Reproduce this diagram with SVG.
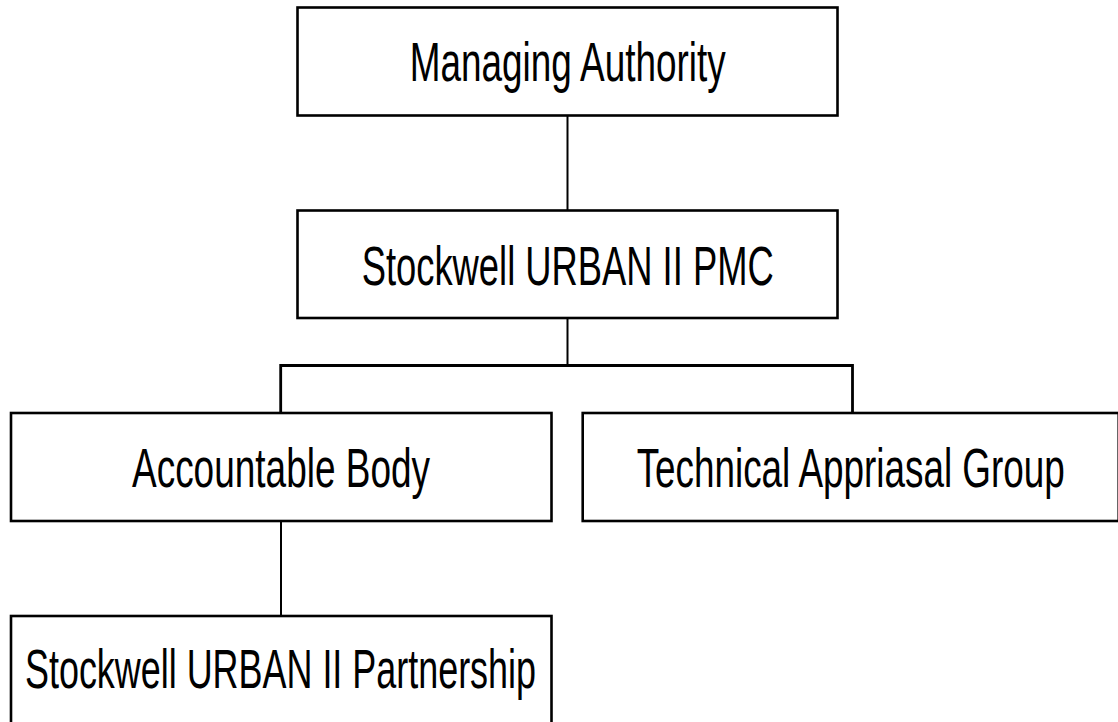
<svg xmlns="http://www.w3.org/2000/svg" width="1118" height="722" viewBox="0 0 1118 722">
<style>
.box{fill:#fff;stroke:#000;stroke-width:2.6}
.lbl{font-family:"Liberation Sans",Arial,sans-serif;font-size:56px;fill:#000;text-anchor:middle}
.ln{fill:none;stroke:#000;stroke-width:2}
.bus{fill:none;stroke:#000;stroke-width:2.8}
</style>
<rect width="1118" height="722" fill="#fff"/>
<g id="connectors">
<line class="ln" x1="567.5" y1="115.5" x2="567.5" y2="210.5"/>
<line class="ln" x1="567.5" y1="318" x2="567.5" y2="365.5"/>
<polyline class="bus" points="280.7,413 280.7,365.5 852.5,365.5 852.5,413"/>
<line class="ln" x1="281" y1="521" x2="281" y2="616"/>
</g>
<g id="managing-authority">
<rect class="box" x="297.5" y="7.5" width="540" height="108"/>
<text class="lbl" x="567.7" y="81" textLength="316" lengthAdjust="spacingAndGlyphs">Managing Authority</text>
</g>
<g id="pmc">
<rect class="box" x="297.5" y="210.5" width="540" height="107.5"/>
<text class="lbl" x="567.7" y="284.5" textLength="412" lengthAdjust="spacingAndGlyphs">Stockwell URBAN II PMC</text>
</g>
<g id="accountable-body">
<rect class="box" x="11" y="413" width="540.5" height="108"/>
<text class="lbl" x="281" y="486.5" textLength="298" lengthAdjust="spacingAndGlyphs">Accountable Body</text>
</g>
<g id="technical-appraisal-group">
<rect class="box" x="582.7" y="413" width="536" height="108"/>
<text class="lbl" x="850.7" y="486.5" textLength="428" lengthAdjust="spacingAndGlyphs">Technical Appriasal Group</text>
</g>
<g id="partnership">
<rect class="box" x="11" y="616" width="540.5" height="108"/>
<text class="lbl" x="280.5" y="688" textLength="511" lengthAdjust="spacingAndGlyphs">Stockwell URBAN II Partnership</text>
</g>
</svg>
